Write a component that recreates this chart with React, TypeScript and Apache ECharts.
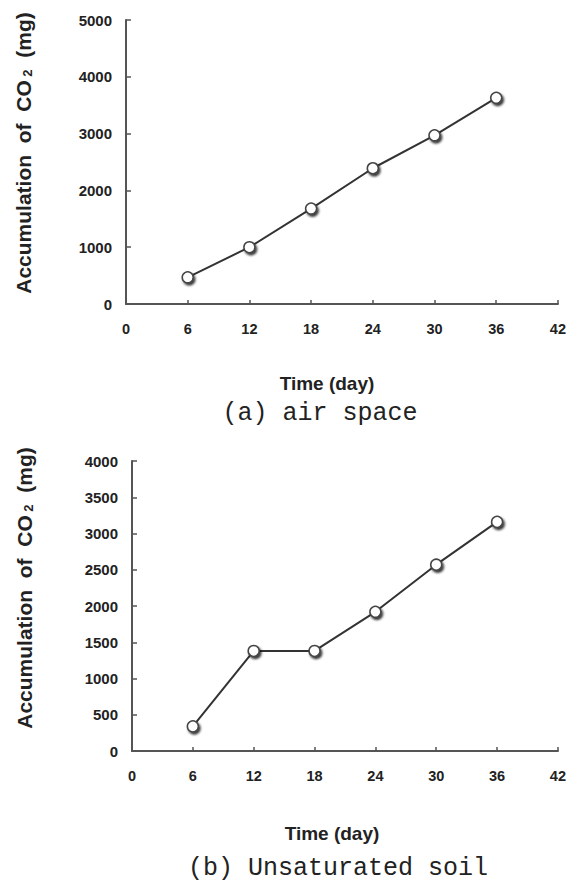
import React, { useEffect, useRef } from "react";
import * as echarts from "echarts";

const days = [6, 12, 18, 24, 30, 36];
const airSpace = [470, 1000, 1680, 2390, 2970, 3630];
const unsaturatedSoil = [340, 1380, 1380, 1920, 2570, 3160];
const yTitle = "{t|Accumulation  of  CO}{s| 2}{t|  (mg)}";
const xTitle = "Time (day)";
const captions = ["(a) air space", "(b) Unsaturated soil"];

const SANS = "'Liberation Sans', Arial, sans-serif";
const MONO = "'Liberation Mono', 'DejaVu Sans Mono', monospace";

export default function App() {
  const ref = useRef<HTMLDivElement>(null);
  useEffect(() => {
    if (!ref.current) return;
    const chart = echarts.init(ref.current, null, { renderer: "svg" });
    const axisLine = { lineStyle: { color: "#555", width: 2 } };
    const label = (margin: number, size: number) => ({
      margin,
      fontSize: size,
      fontWeight: "bold" as const,
      color: "#222",
      fontFamily: SANS,
      formatter: (v: number) => String(v),
    });
    const xAxis = (gi: number) => ({
      type: "value" as const,
      gridIndex: gi,
      min: 0,
      max: 42,
      interval: 6,
      axisLine,
      axisTick: { inside: true, length: 4, lineStyle: { color: "#555", width: 1.5 } },
      axisLabel: label(17, 14.5),
      splitLine: { show: false },
    });
    const yAxis = (gi: number, max: number, interval: number) => ({
      type: "value" as const,
      gridIndex: gi,
      min: 0,
      max,
      interval,
      axisLine: { show: true, ...axisLine },
      axisTick: { show: true, inside: true, length: 5, lineStyle: { color: "#555", width: 1.5 } },
      axisLabel: label(14, 15),
      splitLine: { show: false },
    });
    const series = (gi: number, vals: number[]) => ({
      type: "line" as const,
      xAxisIndex: gi,
      yAxisIndex: gi,
      data: days.map((d, i) => [d, vals[i]]),
      symbol: "circle",
      symbolSize: 11,
      lineStyle: { color: "#333", width: 2 },
      itemStyle: {
        color: "#fff",
        borderColor: "#444",
        borderWidth: 1.5,
        shadowColor: "rgba(0,0,0,0.8)",
        shadowOffsetX: 1.5,
        shadowOffsetY: 2,
        shadowBlur: 2,
      },
    });
    const rich = {
      t: { fontSize: 21, fontWeight: "bold" as const, fontFamily: SANS, fill: "#222", color: "#222" },
      s: { fontSize: 13, fontWeight: "bold" as const, fontFamily: SANS, fill: "#222", color: "#222", verticalAlign: "bottom" as const },
    };
    const yTitleEl = (x: number, y: number) => ({
      type: "text" as const,
      x,
      y,
      rotation: Math.PI / 2,
      style: { text: yTitle, rich, align: "center" as const, verticalAlign: "middle" as const },
    });
    const txt = (x: number, y: number, text: string, font: string, size: number, bold: boolean) => ({
      type: "text" as const,
      x,
      y,
      style: {
        text,
        fontSize: size,
        fontFamily: font,
        fontWeight: bold ? ("bold" as const) : ("normal" as const),
        fill: "#222",
        align: "center" as const,
        verticalAlign: "middle" as const,
      },
    });
    chart.setOption({
      animation: false,
      backgroundColor: "#fff",
      grid: [
        { left: 126, top: 20, width: 432, height: 284 },
        { left: 132, top: 461, width: 431, height: 290 },
      ],
      xAxis: [xAxis(0), xAxis(1)],
      yAxis: [yAxis(0, 5000, 1000), yAxis(1, 4000, 500)],
      series: [series(0, airSpace), series(1, unsaturatedSoil)],
      graphic: [
        yTitleEl(23, 153),
        yTitleEl(24, 588),
        txt(327, 383, xTitle, SANS, 19, true),
        txt(332, 833, xTitle, SANS, 19, true),
        txt(320, 413, captions[0], MONO, 25, false),
        txt(338, 868, captions[1], MONO, 25, false),
      ],
    });
    return () => chart.dispose();
  }, []);
  return (
    <div
      ref={ref}
      style={{ position: "fixed", left: 0, top: 0, width: 569, height: 886 }}
    />
  );
}
